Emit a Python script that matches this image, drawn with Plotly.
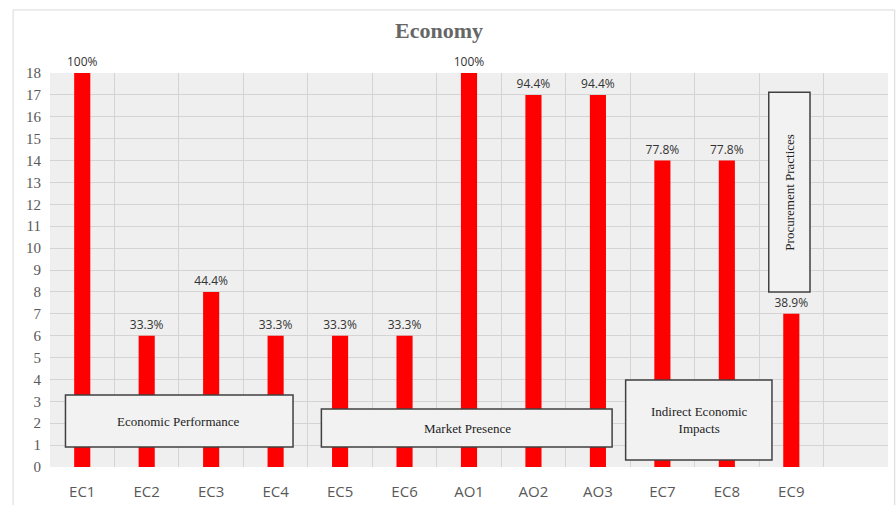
import plotly.graph_objects as go

categories = ["EC1", "EC2", "EC3", "EC4", "EC5", "EC6", "AO1", "AO2", "AO3", "EC7", "EC8", "EC9"]
values = [18, 6, 8, 6, 6, 6, 18, 17, 17, 14, 14, 7]
pct_labels = ["100%", "33.3%", "44.4%", "33.3%", "33.3%", "33.3%", "100%", "94.4%", "94.4%", "77.8%", "77.8%", "38.9%"]
y_ticks = list(range(0, 19))

fig = go.Figure()
fig.add_trace(go.Bar(
    x=categories, y=values, text=pct_labels, textposition="outside",
    constraintext="none",
    marker=dict(color="#ff0000", line=dict(width=0)), width=0.25,
    textfont=dict(family="Open Sans, sans-serif", size=12, color="#333333"),
    cliponaxis=False, hoverinfo="skip",
))

box_style = dict(type="rect", xref="x", yref="y", fillcolor="#f2f2f2",
                 line=dict(color="#404040", width=1.5), layer="above")
boxes = [
    (-0.26, 0.91, 3.27, 3.29),
    (3.71, 0.91, 8.22, 2.65),
    (8.43, 0.32, 10.70, 3.97),
    (10.65, 7.99, 11.29, 17.12),
]
shapes = [dict(box_style, x0=a, y0=b, x1=c, y1=d) for a, b, c, d in boxes]
shapes.append(dict(type="rect", xref="paper", yref="paper", x0=-0.044, x1=1.008,
                   y0=-0.1, y1=1.16, line=dict(color="#d9d9d9", width=1), layer="below"))

serif = "Liberation Serif, Times New Roman, serif"
annotations = [
    dict(x=1.5, y=2.1, text="Economic Performance"),
    dict(x=5.97, y=1.78, text="Market Presence"),
    dict(x=9.57, y=2.15, text="Indirect Economic<br>Impacts"),
    dict(x=10.97, y=12.55, text="Procurement Practices", textangle=-90),
]
for a in annotations:
    a.update(xref="x", yref="y", showarrow=False,
             font=dict(family=serif, size=13, color="#222222"))

fig.update_layout(
    width=896, height=505,
    margin=dict(l=50, r=8, t=73, b=38, autoexpand=False),
    paper_bgcolor="white", plot_bgcolor="#efefef",
    title=dict(text="<b>Economy</b>", x=0.49, xanchor="center", y=0.94, yanchor="middle",
               font=dict(family=serif, size=22, color="#666666"), automargin=False),
    shapes=shapes, annotations=annotations, showlegend=False,
    bargap=0.75,
)
fig.update_xaxes(
    type="category", categoryorder="array", categoryarray=categories,
    range=[-0.5, 12.5], tickson="boundaries", showgrid=True, gridcolor="#d4d4d4",
    ticks="", ticklabelstandoff=14, automargin=False,
    tickfont=dict(family="Open Sans, sans-serif", size=15, color="#595959"),
    showline=False, zeroline=False,
)
fig.update_yaxes(
    range=[0, 18], tickvals=y_ticks, showgrid=True, gridcolor="#d4d4d4",
    ticks="", ticklabelstandoff=8, automargin=False,
    tickfont=dict(family=serif, size=15, color="#595959"),
    zeroline=False, showline=False,
)

fig.write_html("out.html", config={"displayModeBar": False},
               post_script="document.body.style.margin='0';document.body.style.overflow='hidden';")
